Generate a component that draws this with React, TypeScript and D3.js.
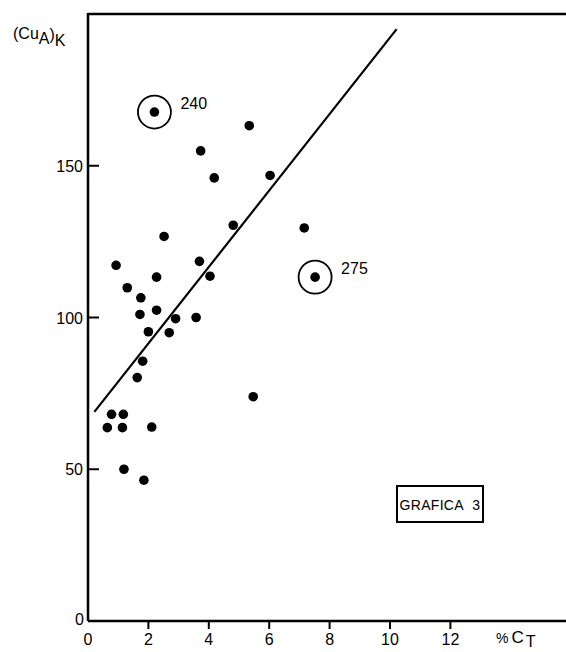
import { scaleLinear, line } from 'd3';

// percent total carbon vs (Cu_A)_K
const pctC = [
  5.34, 3.73, 6.03, 4.18, 4.81, 7.16, 2.52, 0.93, 3.69, 2.27, 4.04, 1.3, 1.75, 1.72, 2.27, 2.9,
  3.58, 2.0, 2.69, 1.81, 1.63, 5.47, 0.78, 1.17, 0.64, 1.14, 2.11, 1.19, 1.85,
];
const cuAK = [
  163.2, 154.9, 146.8, 146, 130.4, 129.5, 126.7, 117.2, 118.5, 113.3, 113.6, 109.8, 106.5, 101,
  102.4, 99.6, 100, 95.3, 95, 85.6, 80.2, 73.9, 68.1, 68.1, 63.7, 63.7, 63.9, 50, 46.4,
];

// circled samples
const flagged = [
  { id: '240', x: 2.2, y: 167.7 },
  { id: '275', x: 7.52, y: 113.3 },
];

// fitted line ends
const fitX = [0.21, 10.22];
const fitY = [68.9, 195];

const xTicks = [2, 4, 6, 8, 10, 12];
const yTicks = [50, 100, 150];

const W = 566;
const H = 652;
const font = '"Liberation Sans", Arial, sans-serif';

export default function App() {
  const x = scaleLinear().domain([0, 12]).range([88, 450.4]);
  const y = scaleLinear().domain([0, 200]).range([621, 14]);

  const fit = line<number>()
    .x((d) => x(d))
    .y((_, i) => y(fitY[i]));

  return (
    <svg
      width={W}
      height={H}
      style={{ position: 'absolute', left: 0, top: 0, background: '#fff' }}
      fontFamily={font}
    >
      {/* frame */}
      <line x1={x(0)} x2={W} y1={y(200)} y2={y(200)} stroke="#000" strokeWidth={2.5} />
      <line x1={x(0)} x2={x(0)} y1={y(200) - 1} y2={y(0)} stroke="#000" strokeWidth={2.5} />
      <line x1={x(0)} x2={W} y1={y(0)} y2={y(0)} stroke="#000" strokeWidth={2.5} />

      {xTicks.map((t) => (
        <g key={t}>
          <line x1={x(t)} x2={x(t)} y1={y(0)} y2={y(0) + 8} stroke="#000" strokeWidth={2} />
          <text x={x(t)} y={645} textAnchor="middle" fontSize={16}>
            {t}
          </text>
        </g>
      ))}
      <text x={x(0)} y={645} textAnchor="middle" fontSize={16}>
        0
      </text>

      {yTicks.map((t) => (
        <g key={t}>
          <line x1={x(0)} x2={x(0) + 11} y1={y(t)} y2={y(t)} stroke="#000" strokeWidth={2} />
          <text x={x(0) - 5} y={y(t) + 6} textAnchor="end" fontSize={16}>
            {t}
          </text>
        </g>
      ))}
      <text x={x(0) - 4} y={y(0) + 4} textAnchor="end" fontSize={16}>
        0
      </text>

      {/* axis titles */}
      <text x={13} y={39} fontSize={16}>
        (Cu
        <tspan dy={5}>A</tspan>
        <tspan dy={-4}>)</tspan>
        <tspan dy={6}>K</tspan>
      </text>
      <text x={496} y={643} fontSize={14}>
        %
        <tspan dx={3} fontSize={17}>C</tspan>
        <tspan dx={2} dy={4} fontSize={16}>T</tspan>
      </text>

      <path d={fit(fitX) ?? ''} fill="none" stroke="#000" strokeWidth={2.2} />

      {pctC.map((v, i) => (
        <circle key={i} cx={x(v)} cy={y(cuAK[i])} r={4.8} fill="#000" />
      ))}

      {flagged.map((p) => (
        <g key={p.id}>
          <circle cx={x(p.x)} cy={y(p.y)} r={4.8} fill="#000" />
          <circle cx={x(p.x)} cy={y(p.y)} r={16.5} fill="none" stroke="#000" strokeWidth={1.8} />
          <text x={x(p.x) + 26} y={y(p.y) - 3} fontSize={16}>
            {p.id}
          </text>
        </g>
      ))}

      {/* label box */}
      <rect x={397} y={486} width={86} height={36} fill="none" stroke="#000" strokeWidth={2} />
      <text x={440} y={510} textAnchor="middle" fontSize={14} letterSpacing={0.3}>
        GRAFICA{'\u00a0 '}3
      </text>
    </svg>
  );
}
